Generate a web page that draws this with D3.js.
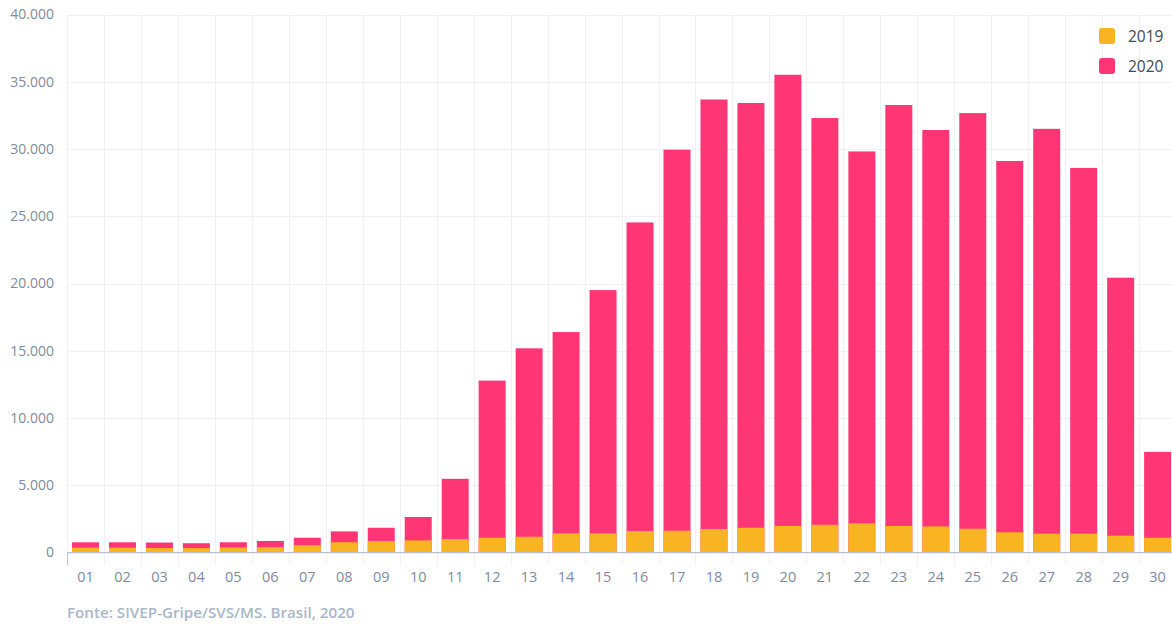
<!DOCTYPE html>
<html>
<head>
<meta charset="utf-8">
<script src="https://cdn.jsdelivr.net/npm/d3@7"></script>
<style>
  body { margin: 0; background: #fff; }
  svg { display: block; font-family: "Open Sans", sans-serif; }
</style>
</head>
<body>
<script>
// epidemiological weeks
var weeks = ["01","02","03","04","05","06","07","08","09","10",
             "11","12","13","14","15","16","17","18","19","20",
             "21","22","23","24","25","26","27","28","29","30"];

// cases per week, 2019
var values2019 = [360, 360, 330, 330, 380, 400, 540, 760, 860, 900,
                  1000, 1100, 1170, 1420, 1420, 1600, 1620, 1750, 1840, 1970,
                  2060, 2170, 1970, 1940, 1770, 1500, 1400, 1400, 1250, 1100];

// cases per week, 2020
var values2020 = [760, 760, 740, 690, 760, 860, 1100, 1570, 1840, 2640,
                  5480, 12780, 15180, 16390, 19510, 24540, 29950, 33680, 33420, 35520,
                  32300, 29820, 33270, 31410, 32670, 29110, 31500, 28590, 20430, 7480];

var yTicks = [0, 5000, 10000, 15000, 20000, 25000, 30000, 35000, 40000];
var series = ["2019", "2020"];
var colors = { "2019": "#f9b521", "2020": "#ff3675" };
var source = "Fonte: SIVEP-Gripe/SVS/MS. Brasil, 2020";

var width = 1172, height = 624;

var svg = d3.select("body").append("svg")
    .attr("width", width)
    .attr("height", height);

// scales
var step = 36.97;
var x = d3.scaleBand()
    .domain(weeks)
    .range([67, 67 + weeks.length * step])
    .paddingInner(0.27)
    .paddingOuter(0.135);

var y = d3.scaleLinear()
    .domain([0, 40000])
    .range([552.5, 14.5]);

var fmt = d3.formatLocale({ decimal: ",", thousands: ".", grouping: [3], currency: ["R$", ""] }).format(",d");

// horizontal grid
svg.append("g")
    .selectAll("line")
    .data(yTicks)
    .enter().append("line")
    .attr("x1", 67)
    .attr("x2", width)
    .attr("y1", function (d) { return Math.round(y(d)) + 0.5; })
    .attr("y2", function (d) { return Math.round(y(d)) + 0.5; })
    .attr("stroke", "#eef0f3")
    .attr("stroke-width", 1);

// vertical grid between weeks (extends below the axis as tick)
svg.append("g")
    .selectAll("line")
    .data(weeks)
    .enter().append("line")
    .attr("x1", function (d) { return Math.round(x(d) - x.step() * 0.135) + 0.5; })
    .attr("x2", function (d) { return Math.round(x(d) - x.step() * 0.135) + 0.5; })
    .attr("y1", 14.5)
    .attr("y2", 565)
    .attr("stroke", "#eef0f3")
    .attr("stroke-width", 1);

// y axis labels
svg.append("g")
    .selectAll("text")
    .data(yTicks)
    .enter().append("text")
    .attr("x", 54)
    .attr("y", function (d) { return y(d); })
    .attr("dy", "0.35em")
    .attr("text-anchor", "end")
    .attr("fill", "#7f8aa0")
    .style("font-size", "14px")
    .text(function (d) { return fmt(d); });

// 2020 bars (behind)
svg.append("g")
    .selectAll("rect")
    .data(values2020)
    .enter().append("rect")
    .attr("x", function (d, i) { return x(weeks[i]); })
    .attr("width", x.bandwidth())
    .attr("y", function (d) { return y(d); })
    .attr("height", function (d) { return y(0) - y(d); })
    .attr("fill", colors["2020"]);

// 2019 bars (front)
svg.append("g")
    .selectAll("rect")
    .data(values2019)
    .enter().append("rect")
    .attr("x", function (d, i) { return x(weeks[i]); })
    .attr("width", x.bandwidth())
    .attr("y", function (d) { return y(d); })
    .attr("height", function (d) { return y(0) - y(d); })
    .attr("fill", colors["2019"]);

// x axis line
svg.append("line")
    .attr("x1", 67)
    .attr("x2", width)
    .attr("y1", 552.5)
    .attr("y2", 552.5)
    .attr("stroke", "#b9c1cf")
    .attr("stroke-width", 1);

svg.append("line")
    .attr("x1", 67.5)
    .attr("x2", 67.5)
    .attr("y1", 552)
    .attr("y2", 565)
    .attr("stroke", "#b9c1cf");

// x labels
svg.append("g")
    .selectAll("text")
    .data(weeks)
    .enter().append("text")
    .attr("x", function (d) { return x(d) + x.bandwidth() / 2; })
    .attr("y", 582)
    .attr("text-anchor", "middle")
    .attr("fill", "#7f8aa0")
    .style("font-size", "14.5px")
    .text(function (d) { return d; });

// legend
var legend = svg.append("g")
    .selectAll("g")
    .data(series)
    .enter().append("g")
    .attr("transform", function (d, i) { return "translate(1099," + (28 + i * 30) + ")"; });

legend.append("rect")
    .attr("width", 16)
    .attr("height", 16)
    .attr("rx", 3)
    .attr("fill", function (d) { return colors[d]; });

legend.append("text")
    .attr("x", 29)
    .attr("y", 8)
    .attr("dy", "0.36em")
    .attr("fill", "#444a52")
    .style("font-size", "15.5px")
    .text(function (d) { return d; });

// source note
svg.append("text")
    .attr("x", 67)
    .attr("y", 618)
    .attr("fill", "#a9b6c8")
    .style("font-size", "15.2px")
    .style("font-weight", "600")
    .text(source);
</script>
</body>
</html>
